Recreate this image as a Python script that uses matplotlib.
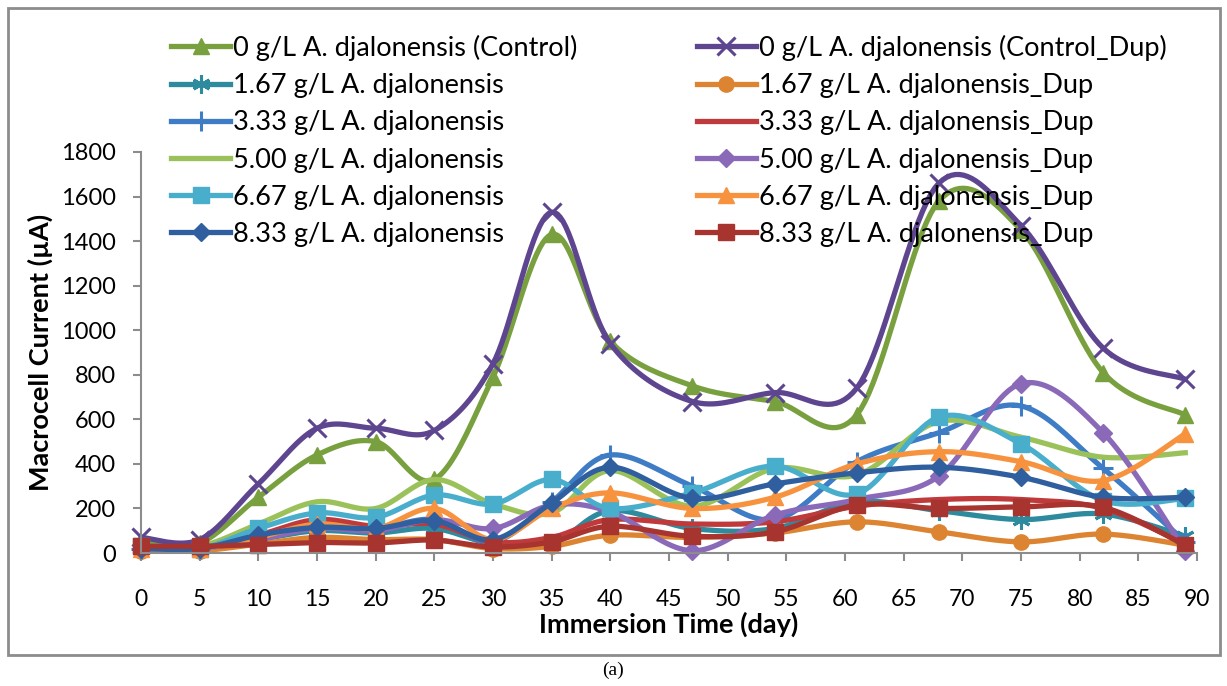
import numpy as np
import matplotlib
matplotlib.use("Agg")
from matplotlib import pyplot as plt
from matplotlib.patches import Rectangle

plt.rcParams['font.family'] = ['Lato', 'DejaVu Sans']

# immersion time (day)
days = [0, 5, 10, 15, 20, 25, 30, 35, 40, 47, 54, 61, 68, 75, 82, 89]

# macrocell current (uA)
control     = [50, 45, 250, 440, 500, 330, 790, 1430, 950, 750, 680, 620, 1580, 1450, 810, 620]
control_dup = [70, 60, 310, 560, 560, 550, 850, 1530, 940, 680, 720, 740, 1660, 1470, 920, 780]
c167        = [20, 20, 60, 100, 90, 110, 40, 40, 190, 110, 110, 230, 190, 150, 175, 75]
c167_dup    = [10, 10, 40, 70, 60, 60, 20, 30, 80, 70, 90, 140, 95, 50, 85, 35]
c333        = [20, 20, 70, 120, 110, 150, 50, 230, 440, 300, 150, 410, 540, 660, 380, 50]
c333_dup    = [30, 20, 80, 150, 120, 130, 50, 70, 150, 130, 140, 210, 240, 240, 200, 40]
c500        = [30, 30, 130, 230, 200, 330, 220, 180, 370, 210, 380, 350, 590, 520, 430, 450]
c500_dup    = [20, 20, 60, 110, 100, 150, 110, 215, 185, 10, 170, 240, 345, 760, 540, 10]
c667        = [30, 20, 110, 180, 160, 260, 220, 330, 200, 270, 390, 265, 610, 490, 235, 245]
c667_dup    = [20, 20, 70, 130, 110, 200, 60, 200, 270, 200, 250, 400, 455, 410, 325, 535]
c833        = [20, 20, 80, 115, 110, 145, 60, 225, 385, 245, 310, 360, 385, 340, 250, 250]
c833_dup    = [30, 30, 38, 47, 45, 58, 27, 50, 120, 75, 95, 215, 200, 207, 205, 35]

labels = ['0 g/L A. djalonensis (Control)', '0 g/L A. djalonensis (Control_Dup)',
          '1.67 g/L A. djalonensis', '1.67 g/L A. djalonensis_Dup',
          '3.33 g/L A. djalonensis', '3.33 g/L A. djalonensis_Dup',
          '5.00 g/L A. djalonensis', '5.00 g/L A. djalonensis_Dup',
          '6.67 g/L A. djalonensis', '6.67 g/L A. djalonensis_Dup',
          '8.33 g/L A. djalonensis', '8.33 g/L A. djalonensis_Dup']
series = [control, control_dup, c167, c167_dup, c333, c333_dup,
          c500, c500_dup, c667, c667_dup, c833, c833_dup]
colors = ['#79A03E', '#5E4590', '#2E8B9E', '#DC8431', '#3E7CC5', '#C0393B',
          '#9BC25A', '#8A6AB8', '#48AECB', '#F7933F', '#2F5F9E', '#A8342F']
markers = ['^', 'x', (6, 2, 0), 'o', '+', None, None, 'D', 's', '^', 'D', 's']
msizes = [11, 13, 13, 11, 14, 0, 0, 9, 11, 11, 9, 11]


def smooth(x, y, n=20):
    # Excel style smoothed line: bezier with catmull-rom control points
    pts = np.column_stack([x, y]).astype(float)
    P = np.vstack([pts[0], pts, pts[-1]])
    out = []
    t = np.linspace(0, 1, n, endpoint=False)[:, None]
    for i in range(len(pts) - 1):
        p0, p1, p2, p3 = P[i], P[i+1], P[i+2], P[i+3]
        c1 = p1 + (p2 - p0) / 6
        c2 = p2 - (p3 - p1) / 6
        seg = (1-t)**3*p1 + 3*(1-t)**2*t*c1 + 3*(1-t)*t**2*c2 + t**3*p2
        out.append(seg)
    out.append(pts[-1:])
    return np.vstack(out)


if __name__ == "__main__":
    fig = plt.figure(figsize=(12.27, 6.86), dpi=100)
    ax = fig.add_axes([141/1227, 1-553/686, (1197-141)/1227, (553-152)/686])

    n = 20
    handles = []
    for vals, lab, col, mk, ms in zip(series, labels, colors, markers, msizes):
        curve = smooth(days, vals, n)
        line, = ax.plot(curve[:, 0], curve[:, 1], color=col, lw=3.8,
                        marker=mk, markersize=ms, markevery=[i*n for i in range(len(days))],
                        mew=2.2 if mk in ('x', '+', (6, 2, 0)) else 1,
                        mec=col, mfc=col, label=lab, clip_on=False,
                        solid_joinstyle='round')
        handles.append(line)

    ax.set_xlim(0, 90)
    ax.set_ylim(0, 1800)
    ax.set_xticks(range(0, 91, 5))
    ax.set_yticks(range(0, 1801, 200))
    for s in ['top', 'right']:
        ax.spines[s].set_visible(False)
    for s in ['left', 'bottom']:
        ax.spines[s].set_color('#8C8C8C')
        ax.spines[s].set_linewidth(1.5)
    ax.tick_params(axis='x', direction='out', length=6, width=1.5, color='#8C8C8C',
                   pad=20, labelsize=16.5)
    ax.tick_params(axis='y', direction='out', length=6, width=1.5, color='#8C8C8C',
                   pad=12, labelsize=17)
    ax.set_xlabel('Immersion Time (day)', fontsize=19.5, fontweight='bold', labelpad=1)
    ax.set_ylabel('Macrocell Current (\u00b5A)', fontsize=19.5, fontweight='bold', labelpad=6)

    order = handles[0::2] + handles[1::2]
    fig.legend(order, [h.get_label() for h in order], ncol=2, loc='upper left',
               bbox_to_anchor=(160/1227, 1-24/686), frameon=False, fontsize=19.5,
               handlelength=2.2, handletextpad=0.1, columnspacing=4.4,
               labelspacing=0.45, borderaxespad=0)

    fig.patches.append(Rectangle((8/1227, 1-655/686), 1212/1227, 647/686,
                                 transform=fig.transFigure, fill=False,
                                 edgecolor='#8C8C8C', lw=2))
    fig.text(613/1227, 1-670/686, '(a)', ha='center', va='center', fontsize=14,
             family='Liberation Serif')

    fig.savefig('out.png', dpi=100)
